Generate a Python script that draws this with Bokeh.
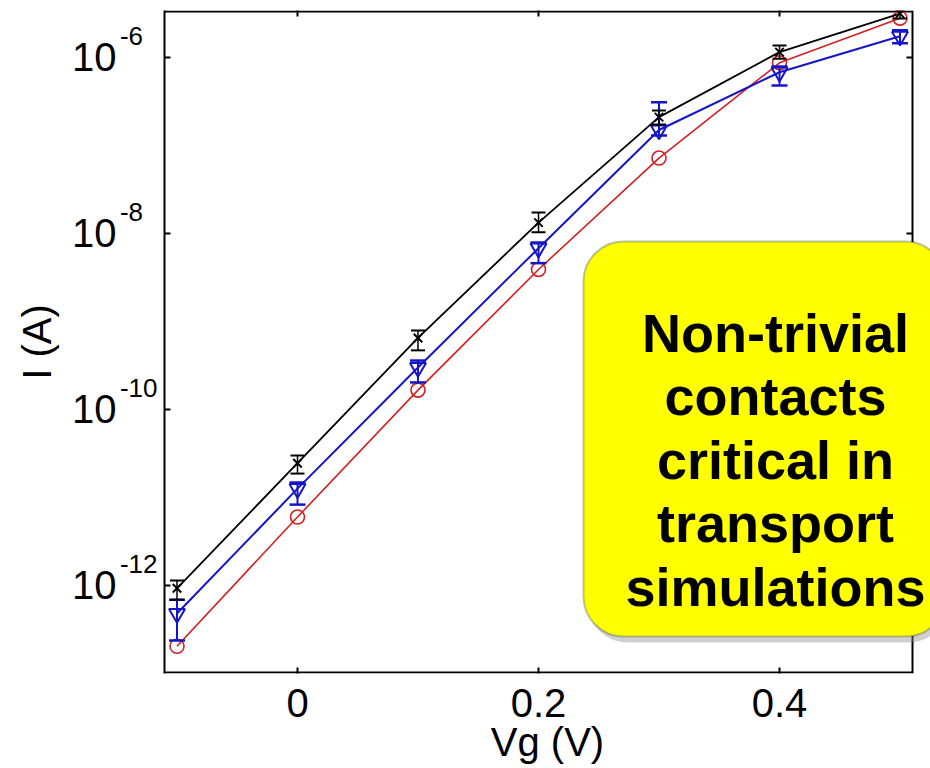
import math
from bokeh.plotting import figure
from bokeh.models import (LinearAxis, LogAxis, FixedTicker, Whisker, ColumnDataSource,
                          Label, BoxAnnotation, Range1d, TeeHead, Span)
from bokeh.embed import file_html
from bokeh.resources import INLINE

# ---------------- data ----------------
vg = [-0.1, 0.0, 0.1, 0.2, 0.3, 0.4, 0.5]

black_i = [9.3e-13, 2.45e-11, 6.5e-10, 1.33e-8, 2.1e-7, 1.15e-6, 3.15e-6]
black_hi = [1.14e-12, 3.0e-11, 7.9e-10, 1.73e-8, 2.5e-7, 1.37e-6, 3.6e-6]
black_lo = [6.9e-13, 1.87e-11, 4.7e-10, 1.03e-8, 1.73e-7, 9.7e-7, 2.77e-6]

blue_i = [4.8e-13, 1.26e-11, 3.0e-10, 6.8e-9, 1.5e-7, 6.8e-7, 1.74e-6]
blue_hi = [6.9e-13, 1.48e-11, 3.6e-10, 7.9e-9, 3.1e-7, 7.9e-7, 2.04e-6]
blue_lo = [2.37e-13, 8.3e-12, 2.03e-10, 4.6e-9, 1.3e-7, 4.8e-7, 1.45e-6]

red_i = [2.04e-13, 6.0e-12, 1.66e-10, 3.9e-9, 7.2e-8, 8.7e-7, 2.8e-6]

x_ticks = [0.0, 0.2, 0.4]
x_tick_labels = ["0", "0.2", "0.4"]
y_tick_exps = [-6, -8, -10, -12]
y_tick_base = "10"
y_tick_sups = ["-6\u2007", "-8\u2007", "-10", "-12"]

callout_lines = ["Non-trivial", "contacts", "critical in", "transport", "simulations"]

# ---------------- layout helpers ----------------
W, H = 930, 768
FL, FRIGHT, FT, FB = 164, 930, 10, 673    # frame (canvas px)
AXR = 912                                 # x of the right border line
PXU = 1205.0                              # px per volt
X_ZERO_PX = 297.0
LY1, PXDEC = -5.466, 88.0                 # log10 at frame top, px per decade
SUP_RAISE = 21.0                          # px the exponent sits above its tick


def px2x(px):
    return (px - X_ZERO_PX) / PXU


def py2y(py):
    return 10 ** (LY1 - (py - FT) / PXDEC)


X0, X1 = px2x(FL), px2x(FRIGHT)
Y0, Y1 = py2y(FB), py2y(FT)
XR = px2x(AXR)

FONT = "Liberation Sans"

p = figure(width=W, height=H, y_axis_type="log",
           x_range=Range1d(X0, X1), y_range=Range1d(Y0, Y1),
           output_backend="svg", toolbar_location=None,
           min_border_left=FL, min_border_right=0,
           min_border_top=FT, min_border_bottom=H - FB)
p.background_fill_color = "white"
p.border_fill_color = "white"
p.outline_line_color = None
p.xgrid.visible = False
p.ygrid.visible = False


def style_axis(ax):
    ax.axis_line_color = "black"
    ax.axis_line_width = 2
    ax.major_tick_in = 6
    ax.major_tick_out = 0
    ax.major_tick_line_width = 2
    ax.minor_tick_in = 0
    ax.minor_tick_out = 0


def hide_labels(ax):
    ax.major_label_text_font_size = "1px"
    ax.major_label_text_color = None
    ax.major_label_standoff = 0
    ax.axis_label = None


def labels_only(ax):
    ax.axis_line_color = None
    ax.major_tick_in = 0
    ax.major_tick_out = 0
    ax.minor_tick_in = 0
    ax.minor_tick_out = 0


xt = FixedTicker(ticks=x_ticks, minor_ticks=[])
ytick_vals = [10.0 ** e for e in y_tick_exps]
yt = FixedTicker(ticks=ytick_vals, minor_ticks=[])

# bottom axis: ticks + numbers + title
xax = p.xaxis[0]
xax.ticker = xt
style_axis(xax)
xax.axis_line_color = None
xax.major_label_overrides = {v: lab for v, lab in zip(x_ticks, x_tick_labels)}
xax.major_label_text_font = FONT
xax.major_label_text_font_size = "40px"
xax.major_label_text_color = "black"
xax.major_label_standoff = 15
xax.axis_label = "Vg (V)"
xax.axis_label_text_font = FONT
xax.axis_label_text_font_size = "40px"
xax.axis_label_text_font_style = "normal"
xax.axis_label_text_color = "black"
xax.axis_label_standoff = 0

# left: inner axis draws line + ticks
yax = p.yaxis[0]
yax.ticker = yt
style_axis(yax)
hide_labels(yax)

# left: exponent labels, raised above each tick
sup_vals = [10.0 ** (e + SUP_RAISE / PXDEC) for e in y_tick_exps]
sup_ax = LogAxis(ticker=FixedTicker(ticks=sup_vals, minor_ticks=[]))
labels_only(sup_ax)
sup_ax.major_label_overrides = {v: s for v, s in zip(sup_vals, y_tick_sups)}
sup_ax.major_label_text_font = FONT
sup_ax.major_label_text_font_size = "26px"
sup_ax.major_label_text_color = "black"
sup_ax.major_label_standoff = 7
sup_ax.axis_label = None
p.add_layout(sup_ax, "left")

# left: the "10" bases, plus the axis title
base_ax = LogAxis(ticker=yt)
labels_only(base_ax)
base_ax.major_label_overrides = {v: y_tick_base for v in ytick_vals}
base_ax.major_label_text_font = FONT
base_ax.major_label_text_font_size = "40px"
base_ax.major_label_text_color = "black"
base_ax.major_label_standoff = 0
base_ax.axis_label = "I (A)"
base_ax.axis_label_text_font = FONT
base_ax.axis_label_text_font_size = "40px"
base_ax.axis_label_text_font_style = "normal"
base_ax.axis_label_text_color = "black"
base_ax.axis_label_standoff = 10
p.add_layout(base_ax, "left")

# top axis: ticks only
top_ax = LinearAxis(ticker=xt)
style_axis(top_ax)
top_ax.axis_line_color = None
hide_labels(top_ax)
p.add_layout(top_ax, "above")

# frame lines that stop at the right border (the frame itself runs to the canvas edge)
p.segment(x0=[X0, X0], x1=[XR, XR], y0=[py2y(FT + 1), py2y(FB - 1)], y1=[py2y(FT + 1), py2y(FB - 1)],
          line_color="black", line_width=2)
p.add_layout(Span(location=XR, dimension="height", line_color="black", line_width=2))
p.segment(x0=[px2x(AXR - 6)] * len(ytick_vals), x1=[XR] * len(ytick_vals),
          y0=ytick_vals, y1=ytick_vals, line_color="black", line_width=2)

# ---------------- series ----------------
RED = "#d42020"
BLUE = "#1414c8"
BLACK = "#000000"

src_red = ColumnDataSource(dict(x=vg, y=red_i))
src_blue = ColumnDataSource(dict(x=vg, y=blue_i, lo=blue_lo, hi=blue_hi))
src_black = ColumnDataSource(dict(x=vg, y=black_i, lo=black_lo, hi=black_hi))

p.line("x", "y", source=src_red, line_color=RED, line_width=1.6)
p.scatter("x", "y", source=src_red, marker="circle", size=14, fill_color=None,
          line_color=RED, line_width=1.6)

p.line("x", "y", source=src_blue, line_color=BLUE, line_width=2)
p.add_layout(Whisker(source=src_blue, base="x", upper="hi", lower="lo",
                     line_color=BLUE, line_width=2,
                     upper_head=TeeHead(size=16, line_color=BLUE, line_width=2.5),
                     lower_head=TeeHead(size=16, line_color=BLUE, line_width=2.5),
                     level="glyph"))
p.scatter("x", "y", source=src_blue, marker="inverted_triangle", size=16, fill_color=None,
          line_color=BLUE, line_width=2)

p.line("x", "y", source=src_black, line_color=BLACK, line_width=1.8)
p.add_layout(Whisker(source=src_black, base="x", upper="hi", lower="lo",
                     line_color=BLACK, line_width=1.5,
                     upper_head=TeeHead(size=14, line_color=BLACK, line_width=2),
                     lower_head=TeeHead(size=14, line_color=BLACK, line_width=2),
                     level="glyph"))
p.scatter("x", "y", source=src_black, marker="x", size=12, line_color=BLACK, line_width=2)

# ---------------- callout ----------------
p.add_layout(BoxAnnotation(left=px2x(587), right=px2x(948), top=py2y(246), bottom=py2y(642),
                           fill_color="#8a8a8a", fill_alpha=0.4, line_color=None,
                           border_radius=40))
p.add_layout(BoxAnnotation(left=px2x(583), right=px2x(945), top=py2y(241), bottom=py2y(636),
                           fill_color="#ffff00", fill_alpha=1.0, line_color="#1f3864",
                           line_width=2, border_radius=40))
baselines = [332, 395.5, 459, 522.5, 586]
for txt, bl in zip(callout_lines, baselines):
    p.add_layout(Label(x=px2x(775), y=py2y(bl), text=txt, text_align="center",
                       text_baseline="alphabetic", text_font=FONT, text_font_style="bold",
                       text_font_size="54px", text_color="black"))

open("out.html", "w").write(file_html(p, INLINE))
